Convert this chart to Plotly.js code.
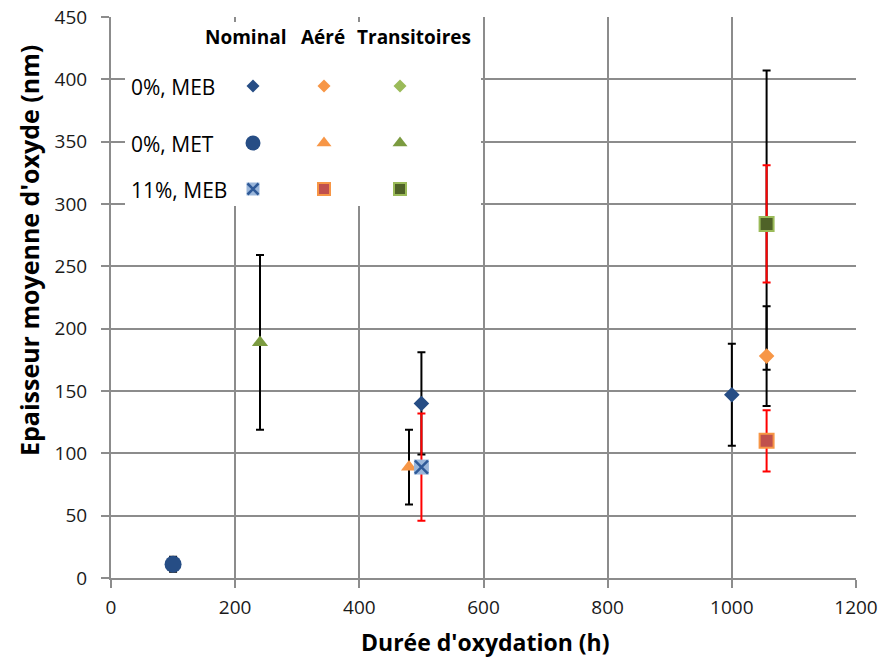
<!DOCTYPE html>
<html>
<head>
<meta charset="utf-8">
<script src="https://cdn.plot.ly/plotly-3.0.1.min.js"></script>
<style>html,body{margin:0;padding:0;background:#fff;}#chart{width:882px;height:659px;}</style>
</head>
<body>
<div id="chart"></div>
<script>
// ---- Data ----
// Nominal
const nomMEB0_x = [500, 1000];
const nomMEB0_y = [140, 147];
const nomMEB0_err = [41, 41];
const nomMET0_x = [100];
const nomMET0_y = [11];
const nomMET0_err = [6];
const nomMEB11_x = [500];
const nomMEB11_y = [89];
const nomMEB11_err = [43];
// Aéré
const aerMEB0_x = [1056];
const aerMEB0_y = [178];
const aerMEB0_err = [40];
const aerMET0_x = [480];
const aerMET0_y = [89];
const aerMET0_err = [30];
const aerMEB11_x = [1056];
const aerMEB11_y = [110];
const aerMEB11_err = [24.5];
// Transitoires
const traMEB0_x = [];
const traMEB0_y = [];
const traMET0_x = [240];
const traMET0_y = [189];
const traMET0_err = [70];
const traMEB11_x = [1056];
const traMEB11_y = [284];
const traMEB11_errRed = [47];
const traMEB11_errBlackPlus = [123];
const traMEB11_errBlackMinus = [117];

// Labels
const colHeaders = ['Nominal', 'Aéré', 'Transitoires'];
const rowLabels = ['0%, MEB', '0%, MET', '11%, MEB'];
const xTitle = "Durée d'oxydation (h)";
const yTitle = "Epaisseur moyenne d'oxyde (nm)";

const xTickVals = [0, 200, 400, 600, 800, 1000, 1200];
const yTickVals = [0, 50, 100, 150, 200, 250, 300, 350, 400, 450];

// ---- Styles ----
const C_NOM = '#264D85';
const C_NOM_LIGHT = '#9AB6DA';
const C_NOM_X = '#2F5A98';
const C_ORANGE = '#F79646';
const C_RED = '#C0504D';
const C_GREEN_L = '#9BBB59';
const C_GREEN_M = '#7B9B40';
const C_GREEN_D = '#4F6228';
const ERR_RED_C = '#FF0000';

function errb(arr, color) {
  return {type: 'data', array: arr, visible: true, color: color, thickness: 2, width: 4};
}

const traces = [];
// Black error bars first
traces.push({x: traMEB11_x, y: traMEB11_y, mode: 'markers', marker: {size: 1, opacity: 0},
  error_y: {type: 'data', symmetric: false, array: traMEB11_errBlackPlus, arrayminus: traMEB11_errBlackMinus,
            visible: true, color: '#000', thickness: 2, width: 4}, hoverinfo: 'skip'});
traces.push({x: traMET0_x, y: traMET0_y, mode: 'markers',
  marker: {symbol: 'triangle-up', size: 14, color: C_GREEN_M}, error_y: errb(traMET0_err, '#000')});
traces.push({x: nomMET0_x, y: nomMET0_y, mode: 'markers',
  marker: {symbol: 'circle', size: 17, color: C_NOM}, error_y: errb(nomMET0_err, '#000')});
traces.push({x: aerMET0_x, y: aerMET0_y, mode: 'markers',
  marker: {symbol: 'triangle-up', size: 14, color: C_ORANGE}, error_y: errb(aerMET0_err, '#000')});
traces.push({x: nomMEB0_x, y: nomMEB0_y, mode: 'markers',
  marker: {symbol: 'diamond', size: 12, color: C_NOM}, error_y: errb(nomMEB0_err, '#000')});
traces.push({x: aerMEB0_x, y: aerMEB0_y, mode: 'markers',
  marker: {symbol: 'diamond', size: 12, color: C_ORANGE}, error_y: errb(aerMEB0_err, '#000')});
traces.push({x: traMEB0_x, y: traMEB0_y, mode: 'markers',
  marker: {symbol: 'diamond', size: 12, color: C_GREEN_L}});
// Red error bars (11% MEB)
traces.push({x: nomMEB11_x, y: nomMEB11_y, mode: 'markers',
  marker: {symbol: 'square', size: 15, color: C_NOM_LIGHT}, error_y: errb(nomMEB11_err, ERR_RED_C)});
traces.push({x: nomMEB11_x, y: nomMEB11_y, mode: 'markers',
  marker: {symbol: 'x-thin', size: 13, color: C_NOM_X, line: {color: C_NOM_X, width: 2.5}}, hoverinfo: 'skip'});
traces.push({x: aerMEB11_x, y: aerMEB11_y, mode: 'markers',
  marker: {symbol: 'square', size: 14, color: C_RED, line: {color: C_ORANGE, width: 2}}, error_y: errb(aerMEB11_err, ERR_RED_C)});
traces.push({x: traMEB11_x, y: traMEB11_y, mode: 'markers',
  marker: {symbol: 'square', size: 14, color: C_GREEN_D, line: {color: C_GREEN_L, width: 2}}, error_y: errb(traMEB11_errRed, ERR_RED_C)});

// ---- Legend (drawn on an overlay axis in pixel units) ----
traces.push({x: [125, 481, 481, 125, 125], y: [22, 22, 206, 206, 22], xaxis: 'x2', yaxis: 'y2',
  mode: 'lines', fill: 'toself', fillcolor: '#ffffff', line: {width: 0, color: '#ffffff'}, hoverinfo: 'skip'});
const legColX = [253, 324, 400];
const legRowY = [86, 143, 189];
const legSym = [
  [{symbol: 'diamond', size: 10, color: C_NOM}, {symbol: 'diamond', size: 10, color: C_ORANGE}, {symbol: 'diamond', size: 10, color: C_GREEN_L}],
  [{symbol: 'circle', size: 15, color: C_NOM}, {symbol: 'triangle-up', size: 13, color: C_ORANGE}, {symbol: 'triangle-up', size: 13, color: C_GREEN_M}],
  [{symbol: 'square', size: 13, color: C_NOM_LIGHT}, {symbol: 'square', size: 12, color: C_RED, line: {color: C_ORANGE, width: 2}}, {symbol: 'square', size: 12, color: C_GREEN_D, line: {color: C_GREEN_L, width: 2}}]
];
for (let r = 0; r < 3; r++) {
  for (let c = 0; c < 3; c++) {
    traces.push({x: [legColX[c]], y: [legRowY[r]], xaxis: 'x2', yaxis: 'y2', mode: 'markers',
      marker: legSym[r][c], hoverinfo: 'skip'});
  }
}
traces.push({x: [legColX[0]], y: [legRowY[2]], xaxis: 'x2', yaxis: 'y2', mode: 'markers',
  marker: {symbol: 'x-thin', size: 11, color: C_NOM_X, line: {color: C_NOM_X, width: 2.5}}, hoverinfo: 'skip'});

const annotations = [];
const headerX = [245, 323, 414];
for (let c = 0; c < 3; c++) {
  annotations.push({x: headerX[c], y: 37, xref: 'x2', yref: 'y2', text: '<b>' + colHeaders[c] + '</b>',
    showarrow: false, xanchor: 'center', yanchor: 'middle', font: {family: 'Open Sans', size: 19, color: '#000'}});
}
for (let r = 0; r < 3; r++) {
  annotations.push({x: 129, y: legRowY[r] + 1, xref: 'x2', yref: 'y2', text: rowLabels[r],
    showarrow: false, xanchor: 'left', yanchor: 'middle', font: {family: 'Open Sans', size: 21, color: '#000'}});
}
// Axis titles (placed as in the reference, paper coordinates)
const PW = 745, PH = 561;
annotations.push({x: (485 - 111) / PW, y: (578 - 642) / PH, xref: 'paper', yref: 'paper', text: '<b>' + xTitle + '</b>', showarrow: false,
  xanchor: 'center', yanchor: 'middle', borderpad: 0, font: {family: 'Open Sans', size: 23, color: '#000'}});
annotations.push({x: (29 - 111) / PW, y: (578 - 251) / PH, xref: 'paper', yref: 'paper', text: '<b>' + yTitle + '</b>', showarrow: false,
  textangle: -90, xanchor: 'center', yanchor: 'middle', font: {family: 'Open Sans', size: 25, color: '#000'}});

const GRID = '#8C8C8C';
const layout = {
  width: 882, height: 659,
  margin: {l: 111, r: 26, t: 17, b: 81},
  paper_bgcolor: '#fff', plot_bgcolor: '#fff',
  showlegend: false,
  hovermode: false,
  font: {family: 'Open Sans', color: '#000'},
  xaxis: {range: [0, 1200], tickvals: xTickVals, showgrid: true, gridcolor: GRID, gridwidth: 2,
    showline: true, linecolor: GRID, linewidth: 2, ticks: 'outside', ticklen: 8, tickcolor: GRID, tickwidth: 2,
    ticklabelstandoff: 3, zeroline: false, tickfont: {size: 19, color: '#1a1a1a'}},
  yaxis: {range: [0, 450], tickvals: yTickVals, showgrid: true, gridcolor: GRID, gridwidth: 2,
    showline: true, linecolor: GRID, linewidth: 2, ticks: 'outside', ticklen: 8, tickcolor: GRID, tickwidth: 2,
    ticklabelstandoff: 10, zeroline: false, tickfont: {size: 19, color: '#1a1a1a'}},
  xaxis2: {overlaying: 'x', range: [111, 856], visible: false, anchor: 'y2', fixedrange: true},
  yaxis2: {overlaying: 'y', range: [578, 17], visible: false, anchor: 'x2', fixedrange: true},
  annotations: annotations
};

Plotly.newPlot('chart', traces, layout, {displayModeBar: false, staticPlot: true});
</script>
</body>
</html>
